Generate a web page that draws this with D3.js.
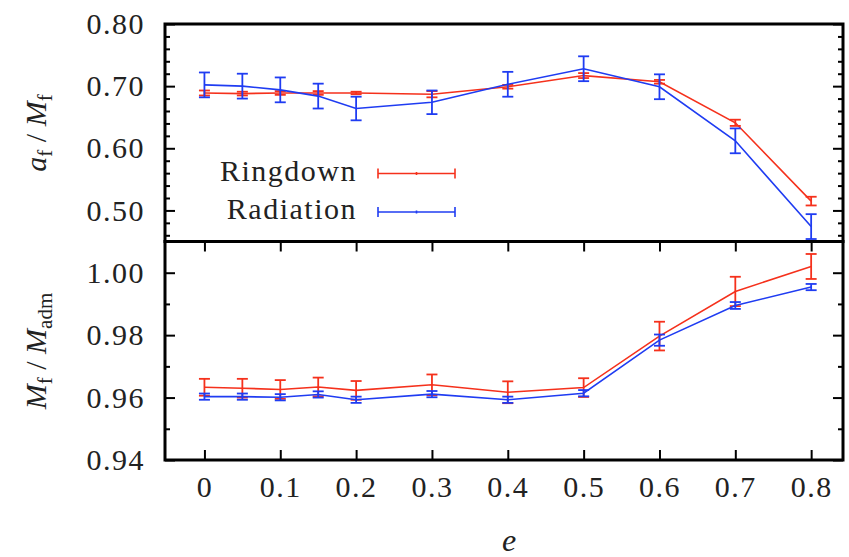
<!DOCTYPE html>
<html>
<head>
<meta charset="utf-8">
<script src="https://cdn.jsdelivr.net/npm/d3@7"></script>
<style>
  body { margin: 0; background: #fff; }
</style>
</head>
<body>
<div id="chart"></div>
<script>
// Eccentricity values
const eValues = [0, 0.05, 0.1, 0.15, 0.2, 0.3, 0.4, 0.5, 0.6, 0.7, 0.8];

// a_f / M_f
const spinRingdown = [0.689, 0.688, 0.689, 0.689, 0.689, 0.687, 0.699, 0.717, 0.707, 0.641, 0.515];
const spinRingdownErr = [0.004, 0.003, 0.003, 0.003, 0.002, 0.005, 0.003, 0.004, 0.003, 0.005, 0.007];
const spinRadiation = [0.702, 0.700, 0.694, 0.684, 0.664, 0.674, 0.703, 0.728, 0.699, 0.612, 0.474];
const spinRadiationErr = [0.020, 0.020, 0.020, 0.020, 0.019, 0.019, 0.020, 0.020, 0.020, 0.020, 0.020];

// M_f / M_adm
const massRingdown = [0.9633, 0.9630, 0.9626, 0.9634, 0.9623, 0.9641, 0.9617, 0.9632, 0.9797, 0.9940, 1.0020];
const massRingdownErr = [0.0027, 0.003, 0.003, 0.003, 0.003, 0.0033, 0.0035, 0.003, 0.0046, 0.0047, 0.004];
const massRadiation = [0.9603, 0.9603, 0.9601, 0.9610, 0.9593, 0.9611, 0.9593, 0.9614, 0.9784, 0.9895, 0.9954];
const massRadiationErr = [0.001, 0.001, 0.001, 0.001, 0.001, 0.001, 0.001, 0.001, 0.0018, 0.0011, 0.001];

// Ticks
const xTicks = [0, 0.1, 0.2, 0.3, 0.4, 0.5, 0.6, 0.7, 0.8];
const spinTicks = [0.50, 0.60, 0.70, 0.80];
const spinMinorTicks = [0.46, 0.48, 0.52, 0.54, 0.56, 0.58, 0.62, 0.64, 0.66, 0.68, 0.72, 0.74, 0.76, 0.78];
const massTicks = [0.94, 0.96, 0.98, 1.00];
const massMinorTicks = [0.95, 0.97, 0.99];

const seriesNames = ["Ringdown", "Radiation"];
const seriesColors = ["#f5311c", "#1f3cf2"];

const width = 849, height = 557;
const plotLeft = 165, plotRight = 843, plotTop = 24, plotMid = 241.5, plotBottom = 460;
const serif = "Liberation Serif, DejaVu Serif, Noto Serif, FreeSerif, Tinos, Times New Roman, Times, serif";

const svg = d3.select("#chart").append("svg")
  .attr("width", width)
  .attr("height", height);

const x = d3.scaleLinear().domain([-0.052, 0.842]).range([plotLeft, plotRight]);
const ySpin = d3.scaleLinear().domain([0.45, 0.80]).range([plotMid, plotTop]);
const yMass = d3.scaleLinear().domain([0.94, 1.01]).range([plotBottom, plotMid]);

const fontSize = 30;

function styleAxis(g) {
  g.attr("font-family", serif).attr("font-size", fontSize);
  g.select(".domain").remove();
  g.selectAll(".tick line").attr("stroke", "#000").attr("stroke-width", 2);
  g.selectAll(".tick text")
    .style("letter-spacing", "1.5px")
    .attr("fill", "#222");
}

// Y axes, top panel
svg.append("g")
  .attr("transform", `translate(${plotLeft},0)`)
  .call(d3.axisLeft(ySpin).tickValues(spinTicks).tickSize(-10).tickPadding(20).tickFormat(d3.format(".2f")))
  .call(styleAxis);
svg.append("g")
  .attr("transform", `translate(${plotLeft},0)`)
  .call(d3.axisLeft(ySpin).tickValues(spinMinorTicks).tickSize(-5).tickFormat(""))
  .call(styleAxis);
svg.append("g")
  .attr("transform", `translate(${plotRight},0)`)
  .call(d3.axisRight(ySpin).tickValues(spinTicks).tickSize(-10).tickFormat(""))
  .call(styleAxis);
svg.append("g")
  .attr("transform", `translate(${plotRight},0)`)
  .call(d3.axisRight(ySpin).tickValues(spinMinorTicks).tickSize(-5).tickFormat(""))
  .call(styleAxis);

// Y axes, bottom panel
svg.append("g")
  .attr("transform", `translate(${plotLeft},0)`)
  .call(d3.axisLeft(yMass).tickValues(massTicks).tickSize(-10).tickPadding(20).tickFormat(d3.format(".2f")))
  .call(styleAxis);
svg.append("g")
  .attr("transform", `translate(${plotLeft},0)`)
  .call(d3.axisLeft(yMass).tickValues(massMinorTicks).tickSize(-5).tickFormat(""))
  .call(styleAxis);
svg.append("g")
  .attr("transform", `translate(${plotRight},0)`)
  .call(d3.axisRight(yMass).tickValues(massTicks).tickSize(-10).tickFormat(""))
  .call(styleAxis);
svg.append("g")
  .attr("transform", `translate(${plotRight},0)`)
  .call(d3.axisRight(yMass).tickValues(massMinorTicks).tickSize(-5).tickFormat(""))
  .call(styleAxis);

// X axes, bottom panel
svg.append("g")
  .attr("transform", `translate(0,${plotBottom})`)
  .call(d3.axisBottom(x).tickValues(xTicks).tickSize(-10).tickPadding(16)
    .tickFormat(d => d === 0 ? "0" : d.toFixed(1)))
  .call(styleAxis);
svg.append("g")
  .attr("transform", `translate(0,${plotMid})`)
  .call(d3.axisTop(x).tickValues(xTicks).tickSize(-10).tickFormat(""))
  .call(styleAxis);

// Panel frames
[[plotTop, plotMid], [plotMid, plotBottom]].forEach(([y0, y1]) => {
  svg.append("rect")
    .attr("x", plotLeft)
    .attr("y", y0)
    .attr("width", plotRight - plotLeft)
    .attr("height", y1 - y0)
    .attr("fill", "none")
    .attr("stroke", "#000")
    .attr("stroke-width", 3);
});

// Series with error bars
function drawSeries(values, errors, yScale, color) {
  const pts = eValues.map((e, i) => ({ e: e, v: values[i], err: errors[i] }));
  const g = svg.append("g");

  g.append("path")
    .datum(pts)
    .attr("fill", "none")
    .attr("stroke", color)
    .attr("stroke-width", 1.6)
    .attr("d", d3.line().x(d => x(d.e)).y(d => yScale(d.v)));

  const bars = g.selectAll(".bar")
    .data(pts)
    .enter()
    .append("g")
    .attr("stroke", color)
    .attr("stroke-width", 1.8);

  bars.append("line")
    .attr("x1", d => x(d.e)).attr("x2", d => x(d.e))
    .attr("y1", d => yScale(d.v - d.err)).attr("y2", d => yScale(d.v + d.err));
  bars.append("line")
    .attr("x1", d => x(d.e) - 5.5).attr("x2", d => x(d.e) + 5.5)
    .attr("y1", d => yScale(d.v - d.err)).attr("y2", d => yScale(d.v - d.err));
  bars.append("line")
    .attr("x1", d => x(d.e) - 5.5).attr("x2", d => x(d.e) + 5.5)
    .attr("y1", d => yScale(d.v + d.err)).attr("y2", d => yScale(d.v + d.err));
}

drawSeries(spinRingdown, spinRingdownErr, ySpin, seriesColors[0]);
drawSeries(spinRadiation, spinRadiationErr, ySpin, seriesColors[1]);
drawSeries(massRingdown, massRingdownErr, yMass, seriesColors[0]);
drawSeries(massRadiation, massRadiationErr, yMass, seriesColors[1]);

// Legend
const legend = svg.append("g");
seriesNames.forEach((name, i) => {
  const ly = 173.5 + i * 38.5;
  legend.append("text")
    .attr("x", 357)
    .attr("y", ly + 7)
    .attr("text-anchor", "end")
    .attr("font-family", serif)
    .attr("font-size", fontSize)
    .attr("fill", "#222")
    .style("letter-spacing", "1.5px")
    .text(name);
  const s = legend.append("g").attr("stroke", seriesColors[i]).attr("stroke-width", 1.6);
  s.append("line").attr("x1", 378).attr("x2", 455).attr("y1", ly).attr("y2", ly);
  s.append("line").attr("x1", 378).attr("x2", 378).attr("y1", ly - 5).attr("y2", ly + 5);
  s.append("line").attr("x1", 455).attr("x2", 455).attr("y1", ly - 5).attr("y2", ly + 5);
  s.append("line").attr("x1", 416.5).attr("x2", 416.5).attr("y1", ly - 1.5).attr("y2", ly + 1.5);
});

// Axis titles
function yTitle(cy, parts) {
  const t = svg.append("text")
    .attr("transform", `translate(46,${cy}) rotate(-90)`)
    .attr("text-anchor", "middle")
    .attr("font-family", serif)
    .attr("font-size", fontSize)
    .attr("fill", "#222");
  let shift = 0;
  parts.forEach(p => {
    const ts = t.append("tspan").text(p.t);
    if (p.italic) ts.attr("font-style", "italic");
    const target = p.sub ? 6 : 0;
    if (target !== shift) { ts.attr("dy", target - shift); shift = target; }
    if (p.sub) ts.attr("font-size", 21);
  });
}

yTitle(133, [
  { t: "a", italic: true }, { t: "f", sub: true },
  { t: " / " }, { t: "M", italic: true }, { t: "f", sub: true }
]);
yTitle(351, [
  { t: "M", italic: true }, { t: "f", sub: true },
  { t: " / " }, { t: "M", italic: true }, { t: "adm", sub: true }
]);

svg.append("text")
  .attr("x", 509)
  .attr("y", 551)
  .attr("text-anchor", "middle")
  .attr("font-family", serif)
  .attr("font-size", 32)
  .attr("font-style", "italic")
  .attr("fill", "#222")
  .text("e");
</script>
</body>
</html>
